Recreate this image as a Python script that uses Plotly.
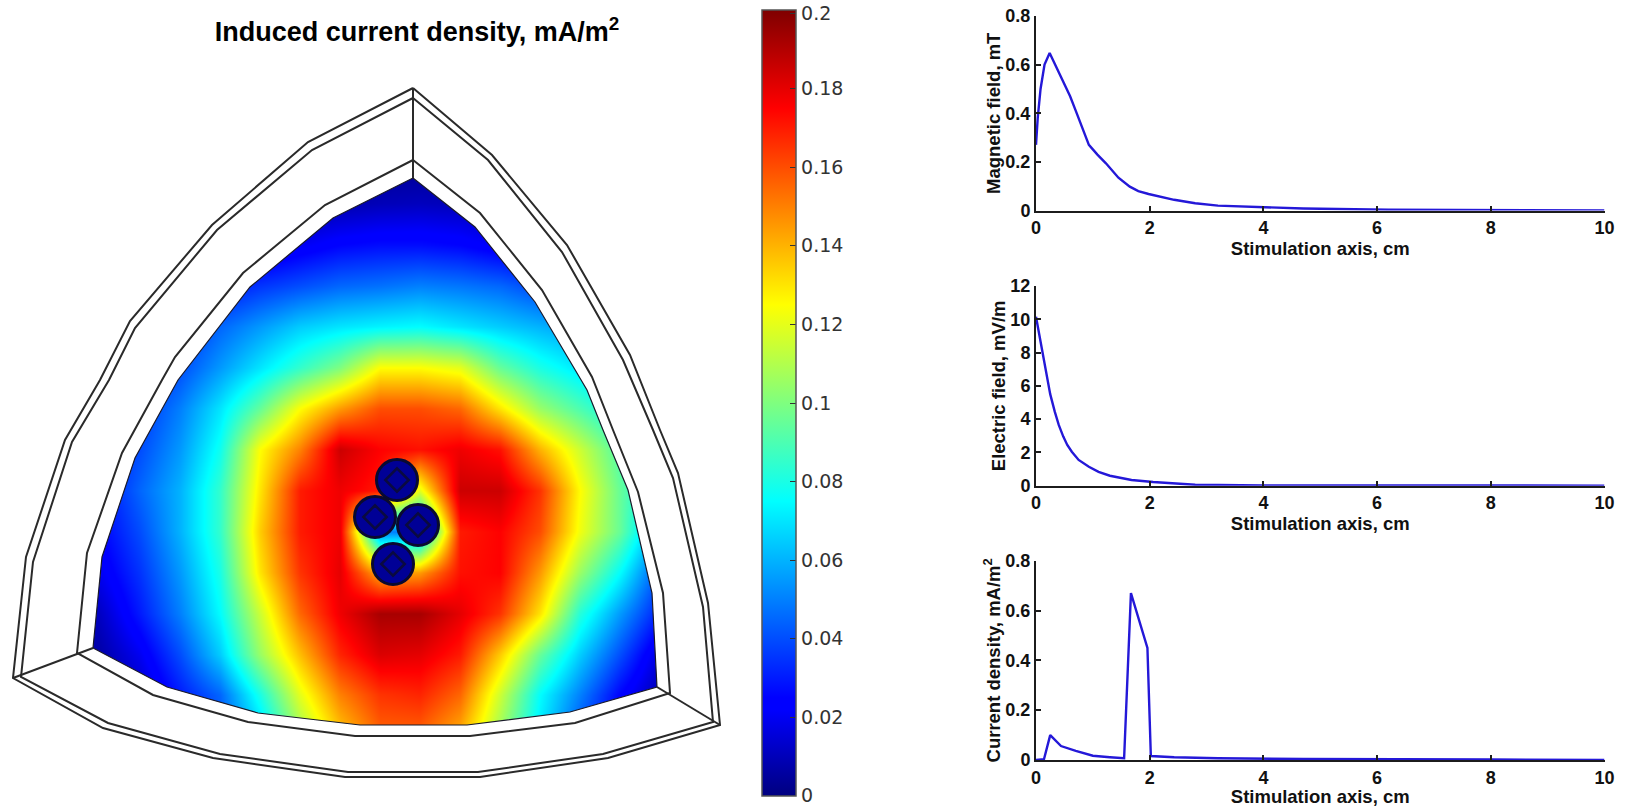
import numpy as np
import plotly.graph_objects as go

W, H = 1631, 807

# ---------- Field (mA/m2 x 1000) ----------
FIELD_X = [60, 100, 140, 180, 220, 260, 300, 340, 380, 420, 460, 500, 540, 580, 620, 660, 700]
FIELD_Y = [162, 203, 244, 285, 326, 367, 408, 449, 490, 531, 572, 613, 654, 694, 735]
FIELD = [
    [3, 3, 3, 3, 3, 3, 3, 3, 3, 3, 3, 3, 3, 3, 3, 3, 3],
    [3, 3, 3, 3, 3, 4, 6, 8, 10, 11, 10, 8, 6, 5, 4, 3, 3],
    [5, 5, 5, 6, 8, 14, 20, 25, 27, 27, 25, 20, 15, 10, 8, 6, 5],
    [10, 10, 12, 18, 28, 35, 40, 45, 47, 50, 48, 45, 38, 30, 20, 12, 10],
    [15, 15, 22, 32, 45, 55, 65, 70, 73, 75, 70, 65, 60, 55, 45, 30, 20],
    [18, 20, 30, 40, 55, 70, 85, 100, 125, 125, 120, 95, 80, 70, 60, 45, 30],
    [20, 24, 35, 50, 70, 95, 125, 145, 160, 160, 155, 130, 105, 90, 75, 55, 35],
    [20, 28, 40, 55, 78, 125, 150, 185, 175, 172, 178, 172, 140, 115, 90, 65, 40],
    [20, 28, 45, 60, 85, 130, 170, 178, 170, 120, 185, 185, 165, 125, 95, 70, 45],
    [18, 25, 40, 60, 85, 135, 170, 178, 50, 50, 170, 175, 160, 122, 95, 55, 30],
    [14, 20, 35, 55, 80, 130, 165, 180, 140, 145, 172, 175, 145, 105, 75, 40, 20],
    [8, 12, 30, 50, 75, 115, 155, 178, 192, 192, 180, 165, 130, 82, 55, 30, 12],
    [5, 7, 20, 40, 65, 105, 138, 168, 182, 180, 170, 135, 95, 65, 40, 15, 6],
    [3, 5, 12, 30, 45, 80, 120, 150, 165, 168, 155, 115, 75, 50, 25, 8, 4],
    [3, 4, 8, 20, 40, 65, 105, 135, 155, 155, 140, 105, 70, 40, 20, 6, 3],
]
CBAR_TICKS = [0.0002, 0.02, 0.04, 0.06, 0.08, 0.1, 0.12, 0.14, 0.16, 0.18, 0.1992]
CBAR_LABELS = ["0", "0.02", "0.04", "0.06", "0.08", "0.1", "0.12", "0.14", "0.16", "0.18", "0.2"]
JET = [[0, "#00007f"], [0.11, "#0000ff"], [0.125, "#0000ff"], [0.34, "#00dcff"], [0.375, "#00ffff"],
       [0.5, "#7fff7f"], [0.625, "#ffff00"], [0.75, "#ff8000"], [0.875, "#ff0000"], [0.89, "#f00000"], [1, "#7f0000"]]

# Volume outlines, picture pixels
REGION_X = [413, 475, 535, 587, 603, 628, 652, 657, 570, 467, 360, 258, 167, 93, 102, 135, 178, 250, 333, 413]
REGION_Y = [178, 227, 302, 390, 430, 490, 593, 687, 712, 725, 725, 713, 687, 648, 557, 458, 380, 287, 218, 178]

OUTER1_X = [413, 492, 567, 630, 660, 678, 708, 720, 608, 480, 345, 213, 103, 13, 26, 65, 100, 130, 212, 308, 413]
OUTER1_Y = [88, 155, 245, 355, 430, 473, 603, 725, 758, 777, 777, 758, 728, 678, 557, 440, 380, 321, 225, 142, 88]
OUTER2_X = [413, 488, 562, 623, 653, 673, 703, 713, 603, 478, 348, 220, 108, 21, 33, 72, 109, 135, 217, 312, 413]
OUTER2_Y = [98, 160, 252, 360, 430, 478, 607, 722, 754, 772, 772, 754, 723, 677, 562, 442, 380, 328, 230, 150, 98]
INNER_X = [413, 480, 542, 592, 613, 638, 663, 670, 575, 470, 355, 248, 153, 77, 87, 122, 162, 175, 243, 325, 413]
INNER_Y = [160, 213, 290, 377, 430, 492, 593, 693, 723, 736, 736, 722, 695, 653, 553, 453, 380, 357, 273, 205, 160]
EDGE_LEFT_X = [13, 93]
EDGE_LEFT_Y = [678, 648]
EDGE_RIGHT_X = [720, 657]
EDGE_RIGHT_Y = [725, 687]
EDGE_TOP_X = [413, 413]
EDGE_TOP_Y = [88, 178]

COIL_X = [397, 375, 418, 393]
COIL_Y = [480, 517, 525, 564]

# Line panels
B_X = [0, 0.03, 0.08, 0.15, 0.24, 0.36, 0.48, 0.6, 0.7, 0.82, 0.93, 1.08, 1.23, 1.45, 1.65, 1.8, 1.98, 2.43, 2.8, 3.2, 4, 4.7, 6.2, 8, 10]
B_Y = [0.27, 0.38, 0.5, 0.6, 0.648, 0.59, 0.53, 0.47, 0.41, 0.335, 0.27, 0.23, 0.194, 0.135, 0.098, 0.08, 0.068, 0.044, 0.03, 0.02, 0.012, 0.008, 0.003, 0.001, 0.0005]
E_X = [0, 0.05, 0.1, 0.18, 0.25, 0.33, 0.4, 0.48, 0.55, 0.63, 0.75, 0.93, 1.1, 1.3, 1.68, 2.06, 2.8, 4, 6, 10]
E_Y = [10.15, 9.2, 8.15, 6.6, 5.5, 4.45, 3.65, 2.95, 2.45, 2.04, 1.55, 1.14, 0.83, 0.6, 0.34, 0.22, 0.06, 0.02, 0.01, 0.005]
J_X = [0, 0.14, 0.25, 0.44, 0.7, 1.0, 1.3, 1.55, 1.67, 1.96, 2.02, 2.43, 3.2, 4.7, 8, 10]
J_Y = [0, 0.003, 0.1, 0.056, 0.037, 0.017, 0.011, 0.007, 0.67, 0.45, 0.016, 0.011, 0.007, 0.004, 0.002, 0.0005]

X_TICKS = [0, 2, 4, 6, 8, 10]
B_TICKS = [0, 0.2, 0.4, 0.6, 0.8]
E_TICKS = [0, 2, 4, 6, 8, 10, 12]
J_TICKS = [0, 0.2, 0.4, 0.6, 0.8]
X_TITLE = "Stimulation axis, cm"

BLUE = "#2418d8"
LINE = "#1c1c1c"
FONT = "Liberation Sans"

fig = go.Figure()

# Field panel: axes run in picture pixels
fig.add_trace(go.Heatmap(
    x=FIELD_X, y=FIELD_Y, z=np.array(FIELD) / 1000.0, zsmooth="best",
    zmin=0, zmax=0.2, colorscale=JET, xaxis="x", yaxis="y", hoverinfo="skip",
    colorbar=dict(
        xref="paper", x=762 / W, xanchor="left", xpad=0,
        yref="paper", y=1 - 10 / H, yanchor="top", ypad=0,
        lenmode="pixels", len=786, thicknessmode="pixels", thickness=34,
        tickmode="array", tickvals=CBAR_TICKS, ticktext=CBAR_LABELS,
        ticks="inside", ticklen=6, tickwidth=1, tickcolor="#333333",
        tickfont=dict(family="DejaVu Sans", size=19, color="#333333"),
        outlinecolor="#555555", outlinewidth=1.5,
    ),
))

# White mask around the coloured volume
mask_x = [0, 730, 730, 0, 0, None] + REGION_X[::-1]
mask_y = [0, 0, 807, 807, 0, None] + REGION_Y[::-1]
fig.add_trace(go.Scatter(x=mask_x, y=mask_y, mode="lines", fill="toself", fillcolor="white",
                         line=dict(width=0), xaxis="x", yaxis="y", hoverinfo="skip", showlegend=False))

fig.add_trace(go.Scatter(x=REGION_X, y=REGION_Y, mode="lines", line=dict(color="#1a1a2a", width=1.2),
                         xaxis="x", yaxis="y", hoverinfo="skip", showlegend=False))
for fx, fy in [(OUTER1_X, OUTER1_Y), (OUTER2_X, OUTER2_Y), (INNER_X, INNER_Y),
               (EDGE_LEFT_X, EDGE_LEFT_Y), (EDGE_RIGHT_X, EDGE_RIGHT_Y), (EDGE_TOP_X, EDGE_TOP_Y)]:
    fig.add_trace(go.Scatter(x=fx, y=fy, mode="lines", line=dict(color="#2a2a2a", width=2),
                             xaxis="x", yaxis="y", hoverinfo="skip", showlegend=False))

fig.add_trace(go.Scatter(x=COIL_X, y=COIL_Y, mode="markers",
                         marker=dict(symbol="circle", size=41, color="#000096", line=dict(color="#0a0a30", width=3)),
                         xaxis="x", yaxis="y", hoverinfo="skip", showlegend=False))
fig.add_trace(go.Scatter(x=COIL_X, y=COIL_Y, mode="markers",
                         marker=dict(symbol="diamond-open", size=18, color="#0a0a40", line=dict(color="#0a0a40", width=2.5)),
                         xaxis="x", yaxis="y", hoverinfo="skip", showlegend=False))

# Line panels
PANELS = [
    ("x2", "y2", B_X, B_Y, [0, 0.8], B_TICKS, "Magnetic field, mT", 16, 210.5),
    ("x3", "y3", E_X, E_Y, [0, 12], E_TICKS, "Electric field, mV/m", 286, 485.7),
    ("x4", "y4", J_X, J_Y, [0, 0.8], J_TICKS, "Current density, mA/m<sup>2</sup>", 560.7, 760),
]
axes = {}
for xa, ya, px, py, yr, yt, ytitle, top, bottom in PANELS:
    fig.add_trace(go.Scatter(x=px, y=py, mode="lines", line=dict(color=BLUE, width=2.4),
                             xaxis=xa, yaxis=ya, showlegend=False))
    common = dict(showgrid=False, zeroline=False, showline=True, linecolor=LINE, linewidth=2,
                  ticks="inside", ticklen=5, tickwidth=1.5, tickcolor=LINE,
                  tickfont=dict(family=FONT, size=18, color="#111111", weight=700),
                  mirror=False)
    axes["xaxis" + xa[1:]] = dict(common, domain=[1036 / W, 1604.5 / W], range=[0, 10], tickvals=X_TICKS,
                                  anchor=ya,
                                  title=dict(text=X_TITLE, standoff=0,
                                             font=dict(family=FONT, size=18.5, color="#111111", weight=700)))
    axes["yaxis" + ya[1:]] = dict(common, domain=[1 - bottom / H, 1 - top / H], range=yr, tickvals=yt,
                                  anchor=xa,
                                  title=dict(text=ytitle, standoff=0,
                                             font=dict(family=FONT, size=18.5, color="#111111", weight=700)))

fig.update_layout(
    width=W, height=H, autosize=False, margin=dict(l=0, r=0, t=0, b=0, autoexpand=False),
    paper_bgcolor="white", plot_bgcolor="white", showlegend=False,
    title=dict(text="Induced current density, mA/m<sup>2</sup>", x=417 / W, xanchor="center",
               y=1 - 32 / H, yanchor="middle",
               font=dict(family=FONT, size=27, color="black", weight=700)),
    xaxis=dict(domain=[0, 730 / W], range=[0, 730], visible=False, anchor="y"),
    yaxis=dict(domain=[0, 1], range=[807, 0], visible=False, anchor="x"),
    **axes,
)

fig.write_html("out.html", config={"displayModeBar": False},
               post_script="document.body.style.margin='0';document.body.style.overflow='hidden';")
